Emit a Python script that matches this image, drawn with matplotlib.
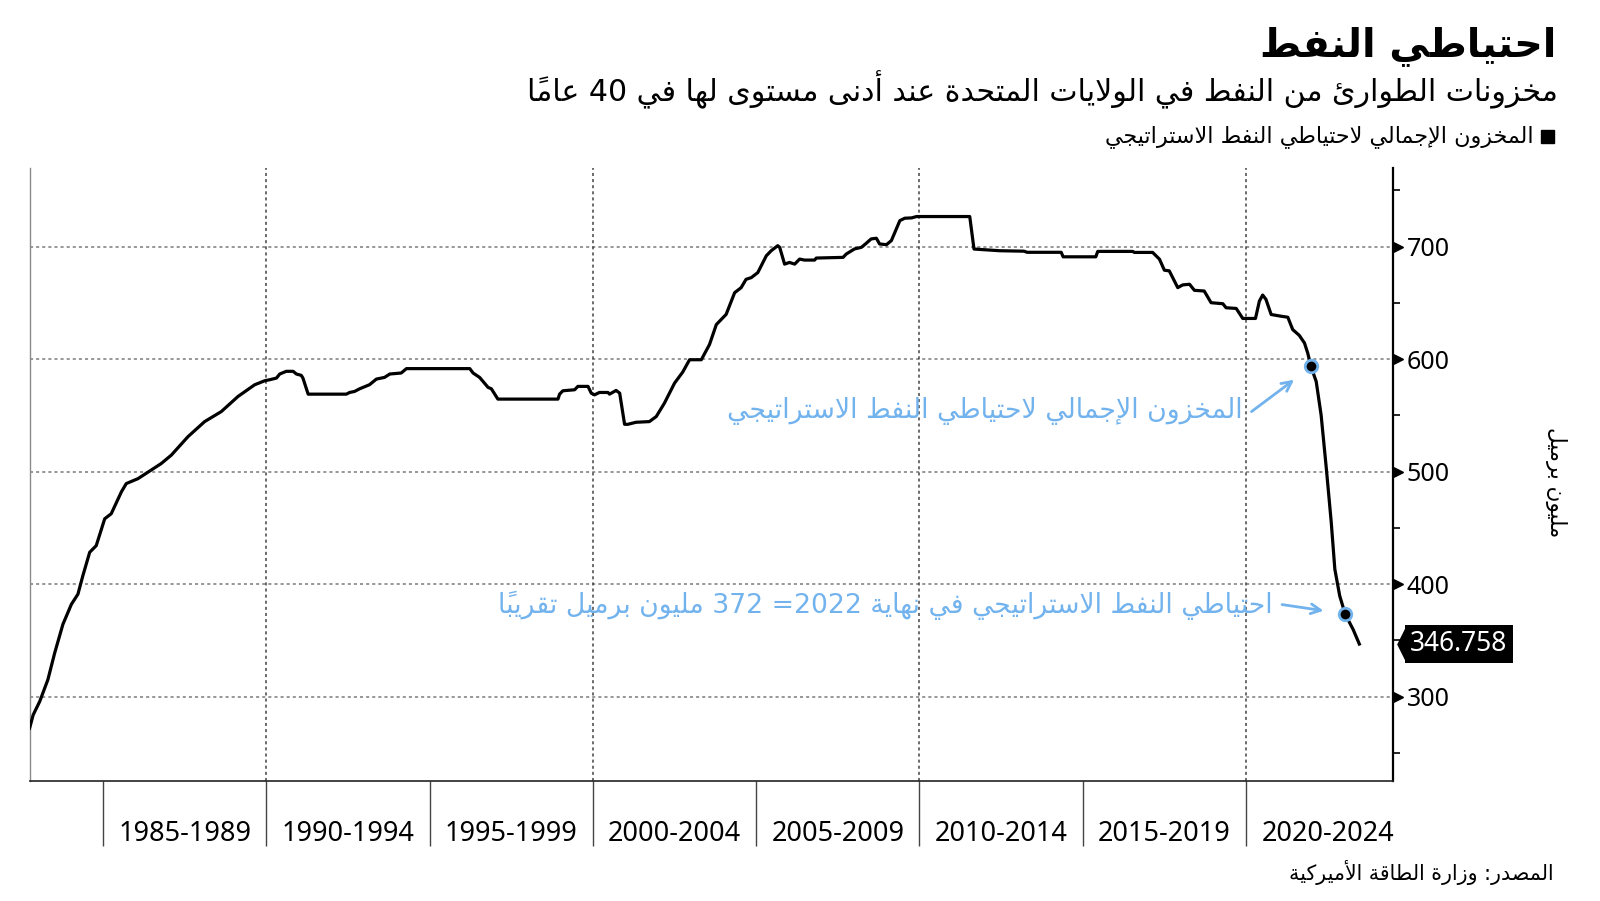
import matplotlib
matplotlib.use("Agg")
import matplotlib.pyplot as plt
import matplotlib.transforms as mtransforms
from matplotlib.path import Path

# ---- data ----
years = [
    1982.75, 1982.86, 1983.06, 1983.31, 1983.52, 1983.77, 1984.03, 1984.23, 1984.38, 1984.59,
    1984.79, 1985.05, 1985.25, 1985.56, 1985.71, 1986.07, 1986.78, 1987.09, 1987.60, 1988.11,
    1988.62, 1989.13, 1989.64, 1989.95, 1990.10, 1990.31, 1990.41, 1990.61, 1990.82, 1990.92,
    1991.07, 1991.12, 1991.28, 1992.45, 1992.55, 1992.70, 1992.86, 1993.16, 1993.37, 1993.62,
    1993.78, 1994.13, 1994.29, 1996.23, 1996.33, 1996.53, 1996.79, 1996.89, 1997.09, 1998.93,
    1998.98, 1999.08, 1999.44, 1999.54, 1999.85, 1999.95, 2000.05, 2000.20, 2000.46, 2000.51,
    2000.71, 2000.82, 2000.97, 2001.07, 2001.32, 2001.73, 2001.94, 2002.19, 2002.50, 2002.75,
    2002.96, 2003.32, 2003.57, 2003.78, 2004.08, 2004.34, 2004.54, 2004.69, 2004.85, 2005.05,
    2005.31, 2005.46, 2005.66, 2005.72, 2005.87, 2006.02, 2006.18, 2006.33, 2006.48, 2006.79,
    2006.84, 2007.66, 2007.76, 2008.01, 2008.22, 2008.37, 2008.52, 2008.68, 2008.78, 2008.99,
    2009.14, 2009.40, 2009.55, 2009.76, 2009.91, 2011.54, 2011.67, 2012.46, 2013.20, 2013.30,
    2014.34, 2014.40, 2015.40, 2015.46, 2016.53, 2016.58, 2017.14, 2017.35, 2017.50, 2017.65,
    2017.91, 2018.06, 2018.27, 2018.42, 2018.72, 2018.93, 2019.29, 2019.39, 2019.70, 2019.90,
    2020.29, 2020.41, 2020.51, 2020.61, 2020.77, 2021.07, 2021.28, 2021.43, 2021.63, 2021.79,
    2021.89, 2021.99, 2022.15, 2022.30, 2022.46, 2022.61, 2022.72, 2022.87, 2023.04, 2023.28,
    2023.47,
]
stock = [
    271.9, 283.8, 295.7, 315.1, 339.0, 364.3, 382.1, 391.1, 407.4, 428.3,
    434.2, 458.1, 462.6, 482.0, 489.4, 493.8, 507.2, 514.7, 531.1, 544.5,
    553.4, 566.8, 577.2, 580.8, 581.7, 583.2, 586.8, 589.2, 589.2, 586.8,
    585.6, 583.2, 568.9, 568.9, 570.4, 571.3, 573.7, 577.3, 582.3, 583.8,
    586.8, 587.7, 591.6, 591.6, 587.7, 583.8, 574.9, 573.7, 564.5, 564.5,
    568.9, 571.9, 572.8, 575.8, 575.8, 569.8, 568.3, 570.4, 570.4, 568.9,
    572.2, 569.8, 542.1, 542.1, 543.9, 544.5, 549.0, 560.9, 578.7, 588.5,
    599.5, 599.5, 613.0, 630.8, 639.8, 659.1, 663.6, 671.0, 672.5, 677.0,
    691.9, 696.4, 700.9, 699.4, 684.5, 686.0, 684.5, 689.0, 688.1, 688.1,
    689.9, 690.5, 693.5, 698.0, 699.4, 703.0, 706.9, 707.5, 702.4, 701.8,
    705.4, 723.2, 725.3, 725.6, 726.8, 726.8, 697.9, 696.4, 696.0, 695.0,
    695.0, 691.0, 691.0, 695.8, 695.8, 694.9, 694.9, 688.9, 679.1, 678.5,
    663.6, 666.0, 666.6, 661.2, 660.6, 650.2, 649.3, 645.7, 645.1, 636.2,
    636.2, 651.7, 657.0, 653.2, 639.7, 638.2, 637.3, 626.3, 621.2, 614.4,
    605.4, 593.5, 580.1, 550.3, 502.7, 455.0, 413.3, 389.5, 373.1, 359.7,
    346.758,
]
ann_years = [2021.99, 2023.04]
ann_values = [593.5, 373.1]
last_value = 346.758

period_edges = [1985, 1990, 1995, 2000, 2005, 2010, 2015, 2020]
period_labels = ["1985-1989", "1990-1994", "1995-1999", "2000-2004",
                 "2005-2009", "2010-2014", "2015-2019", "2020-2024"]
decade_lines = [1990, 2000, 2010, 2020]
y_major = [300, 400, 500, 600, 700]
y_minor = [250, 350, 450, 550, 650, 750]

title = "احتياطي النفط"
subtitle = "مخزونات الطوارئ من النفط في الولايات المتحدة عند أدنى مستوى لها في 40 عاماً"
legend_label = "المخزون الإجمالي لاحتياطي النفط الاستراتيجي"
note_total = "المخزون الإجمالي لاحتياطي النفط الاستراتيجي"
note_2022 = "احتياطي النفط الاستراتيجي في نهاية 2022= 372 مليون برميل تقريباً"
y_label = "مليون برميل"
source = "المصدر: وزارة الطاقة الأميركية"

BLUE = "#72b3ee"
AR_FONT = "DejaVu Sans"
NUM_FONT = "Noto Sans"

# ---- minimal Arabic shaping + visual reordering (matplotlib has no CTL) ----
_DUAL = {'ئ': 0xFE89, 'ب': 0xFE8F, 'ت': 0xFE95, 'ث': 0xFE99, 'ج': 0xFE9D, 'ح': 0xFEA1,
         'خ': 0xFEA5, 'س': 0xFEB1, 'ش': 0xFEB5, 'ص': 0xFEB9, 'ض': 0xFEBD, 'ط': 0xFEC1,
         'ظ': 0xFEC5, 'ع': 0xFEC9, 'غ': 0xFECD, 'ف': 0xFED1, 'ق': 0xFED5, 'ك': 0xFED9,
         'ل': 0xFEDD, 'م': 0xFEE1, 'ن': 0xFEE5, 'ه': 0xFEE9, 'ي': 0xFEF1}
_RIGHT = {'آ': 0xFE81, 'أ': 0xFE83, 'ؤ': 0xFE85, 'إ': 0xFE87, 'ا': 0xFE8D, 'ة': 0xFE93,
          'د': 0xFEA9, 'ذ': 0xFEAB, 'ر': 0xFEAD, 'ز': 0xFEAF, 'و': 0xFEED, 'ى': 0xFEEF,
          'LA_آ': 0xFEF5, 'LA_أ': 0xFEF7, 'LA_إ': 0xFEF9, 'LA_ا': 0xFEFB}
_ISO = {'ء': 0xFE80}


def ar(text):
    items = []
    for ch in text:
        if '\u064B' <= ch <= '\u0652' and items:
            items[-1][1] += ch
        else:
            items.append([ch, ''])
    merged = []
    i = 0
    while i < len(items):
        b, m = items[i]
        if b == 'ل' and not m and i + 1 < len(items) and items[i + 1][0] in 'آأإا':
            merged.append(['LA_' + items[i + 1][0], items[i + 1][1]])
            i += 2
        else:
            merged.append([b, m])
            i += 1
    shaped = []
    for i, (b, m) in enumerate(merged):
        if b in _DUAL or b in _RIGHT:
            prev = merged[i - 1][0] if i > 0 else None
            nxt = merged[i + 1][0] if i + 1 < len(merged) else None
            jp = prev in _DUAL
            jn = b in _DUAL and (nxt in _DUAL or nxt in _RIGHT)
            off = {(False, False): 0, (True, False): 1, (False, True): 2, (True, True): 3}[(jp, jn)]
            g = chr(_DUAL.get(b, _RIGHT.get(b)) + off)
        elif b in _ISO:
            g = chr(_ISO[b])
        else:
            g = b
        shaped.append((g, m, b.isascii() and (b.isdigit() or b == '.')))
    clusters = []
    for g, m, is_num in shaped:
        if is_num and clusters and clusters[-1][1]:
            clusters[-1][0] += g + m
        else:
            clusters.append([g + m, is_num and g != '.'])
    return "".join(c[0] for c in reversed(clusters))


# ---- figure ----
fig = plt.figure(figsize=(16, 9.01), dpi=100)
ax = fig.add_axes([0.0185, 0.1332, 0.8521, 0.6804])
ax.set_xlim(1982.75, 2024.5)
ax.set_ylim(225, 770)

for yv in y_major:
    ax.axhline(yv, color="#7a7a7a", lw=1.1, ls=(0, (2, 2)), zorder=1)
for xv in decade_lines:
    ax.axvline(xv, color="#444444", lw=1.1, ls=(0, (2, 2)), zorder=1)

ax.plot(years, stock, color="black", lw=2.3, zorder=3, solid_joinstyle="round")
ax.plot(ann_years, ann_values, ls="none", marker="o", ms=9, mfc="black",
        mec=BLUE, mew=2, zorder=4)

# annotations
ax.annotate("", xy=(2021.54, 583.2), xytext=(2020.10, 551.9),
            arrowprops=dict(arrowstyle="->,head_length=0.7,head_width=0.35",
                            color=BLUE, lw=2))
ax.text(2019.89, 554, ar(note_total), color=BLUE, fontsize=19.3, family=AR_FONT,
        ha="right", va="center", zorder=5)
ax.annotate("", xy=(2022.46, 376.0), xytext=(2021.02, 382.2),
            arrowprops=dict(arrowstyle="->,head_length=0.7,head_width=0.35",
                            color=BLUE, lw=2))
ax.text(2020.81, 381, ar(note_2022), color=BLUE, fontsize=19.2, family=AR_FONT,
        ha="right", va="center", zorder=5)

# spines
ax.spines["top"].set_visible(False)
ax.spines["left"].set_color("#8a8a8a")
ax.spines["left"].set_linewidth(1.0)
ax.spines["bottom"].set_color("#222222")
ax.spines["bottom"].set_linewidth(1.2)
ax.spines["right"].set_color("black")
ax.spines["right"].set_linewidth(1.6)

# x axis: separators as major ticks, period labels as minor ticks
ax.set_xticks(period_edges)
ax.set_xticklabels([])
ax.set_xticks([e + 2.5 for e in period_edges], minor=True)
ax.set_xticklabels(period_labels, minor=True, fontsize=19.5, family=NUM_FONT)
ax.tick_params(axis="x", which="major", direction="out", length=47, width=1, color="#444444")
ax.tick_params(axis="x", which="minor", length=0, pad=28)

# y axis on the right
ax.yaxis.tick_right()
ax.set_yticks(y_major)
ax.set_yticklabels([str(v) for v in y_major], fontsize=18, family=NUM_FONT)
ax.set_yticks(y_minor, minor=True)
ax.tick_params(axis="y", which="major", length=0, pad=10, left=False)
ax.tick_params(axis="y", which="minor", length=5, width=1.2, direction="out", left=False)
tri = mtransforms.blended_transform_factory(ax.transAxes, ax.transData)
ax.plot([1.0035] * len(y_major), y_major, ls="none", marker=">", ms=7, color="black",
        transform=tri, clip_on=False)

# last value tag: black box with a pointed left edge
ax.text(1.0127, last_value, "346.758", transform=tri, color="white", fontsize=19,
        family=NUM_FONT, ha="left", va="center",
        bbox=dict(boxstyle="square,pad=0.2", fc="black", ec="none"), clip_on=False)
point = Path([(-0.5, 0), (0, 1), (0, -1), (-0.5, 0)])
ax.plot([1.0089], [last_value], ls="none", marker=point, ms=24, color="black",
        mew=0, transform=tri, clip_on=False)

# texts
fig.text(1556 / 1600, 1 - 56 / 901, ar(title), fontsize=28.5, fontweight="bold",
         family=AR_FONT, ha="right", va="baseline")
fig.text(1558 / 1600, 1 - 101 / 901, ar(subtitle), fontsize=21.6, family=AR_FONT,
         ha="right", va="baseline")
fig.text(1534 / 1600, 1 - 142 / 901, ar(legend_label), fontsize=16, family=AR_FONT,
         ha="right", va="baseline")
fig.patches.append(plt.Rectangle((1541 / 1600, 1 - 143 / 901), 13 / 1600, 13 / 901,
                                 transform=fig.transFigure, color="black"))
fig.text(1556 / 1600, 1 - 482 / 901, ar(y_label), fontsize=15.5, family=AR_FONT,
         rotation=-90, ha="center", va="center")
fig.text(1554 / 1600, 1 - 880 / 901, ar(source), fontsize=14.8, family=AR_FONT,
         ha="right", va="baseline")

fig.savefig("out.png", dpi=100, facecolor="white")
